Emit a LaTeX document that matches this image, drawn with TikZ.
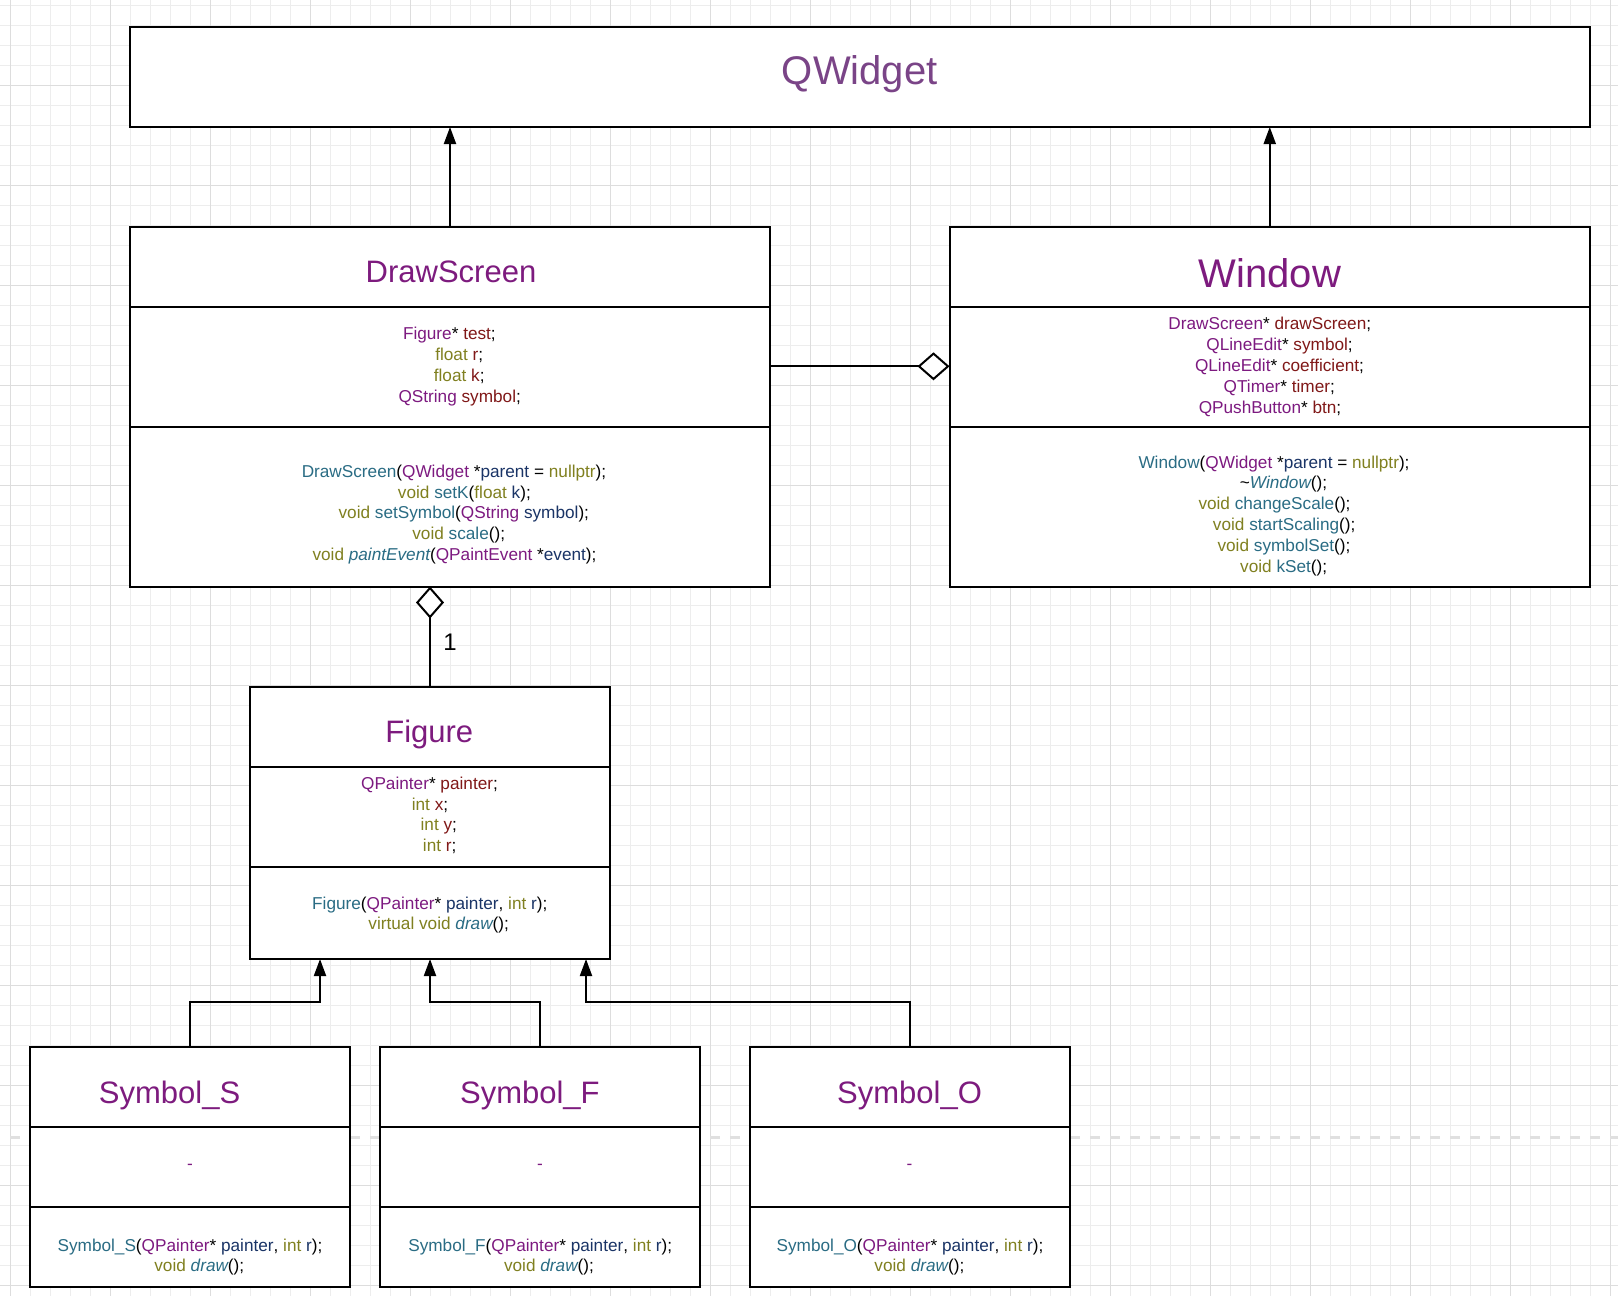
\documentclass[tikz,border=0pt]{standalone}
\usepackage{fontspec}
\setmainfont{Liberation Sans}
\usetikzlibrary{arrows.meta}
\definecolor{cty}{HTML}{7D1A80}
\definecolor{ckw}{HTML}{808020}
\definecolor{cfn}{HTML}{2A6C84}
\definecolor{cpa}{HTML}{1A3466}
\definecolor{cfd}{HTML}{801818}
\definecolor{ttlc}{HTML}{7D1B7E}
\definecolor{qwc}{HTML}{7A4487}
\definecolor{gminor}{HTML}{EDEDED}
\definecolor{gmajor}{HTML}{DDDDDD}
\definecolor{pbreak}{HTML}{E0E0E0}
\newcommand\cTy[1]{\textcolor{cty}{#1}}
\newcommand\cKw[1]{\textcolor{ckw}{#1}}
\newcommand\cFn[1]{\textcolor{cfn}{#1}}
\newcommand\cPa[1]{\textcolor{cpa}{#1}}
\newcommand\cFd[1]{\textcolor{cfd}{#1}}
\newcommand\umlline[4]{\node[txt] (#1) at (#2,#3) {#4};}
\tikzset{
  gridminor/.style={draw=gminor, line width=1pt},
  gridmajor/.style={draw=gmajor, line width=1pt},
  pagebreakline/.style={draw=pbreak, line width=3pt, dash pattern=on 10pt off 10pt, dash phase=10pt},
  box/.style={draw=black, line width=2pt, fill=white, rectangle, inner sep=0pt, outer sep=0pt, anchor=north west},
  div/.style={draw=black, line width=2pt},
  txt/.style={inner sep=0pt, anchor=base, font=\fontsize{17.2}{20}\selectfont},
  ttl/.style={inner sep=0pt, anchor=base, text=ttlc, font=\fontsize{31}{36}\selectfont},
  bigttl/.style={inner sep=0pt, anchor=base, text=ttlc, font=\fontsize{40}{46}\selectfont},
  lbl/.style={inner sep=0pt, anchor=base, font=\fontsize{24}{28}\selectfont},
  gen/.style={draw=black, line width=2pt, -{Triangle[length=17pt,width=12pt]}},
  agg/.style={draw=black, line width=2pt, -{Diamond[fill=white,length=32pt,width=28pt]}}
}
\begin{document}
\begin{tikzpicture}[x=1pt,y=-1pt]
\useasboundingbox (0,0) rectangle (1618,1296);
\fill[white] (0,0) rectangle (1618,1296);
% grid
\foreach \gx in {10,30,...,1610} \draw[gridminor] (\gx,0) -- (\gx,1296);
\foreach \gy in {5,25,...,1295} \draw[gridminor] (0,\gy) -- (1618,\gy);
\foreach \gx in {10,110,...,1610} \draw[gridmajor] (\gx,0) -- (\gx,1296);
\foreach \gy in {85,185,...,1285} \draw[gridmajor] (0,\gy) -- (1618,\gy);
% page break line
\draw[pagebreakline] (0,1137) -- (1618,1137);

% boxes
\node[box, minimum width=1460pt, minimum height=100pt] (qw) at (130,27) {};
\node[box, minimum width=640pt, minimum height=360pt] (ds) at (130,226.5) {};
\node[box, minimum width=640.5pt, minimum height=360pt] (win) at (949.5,226.5) {};
\node[box, minimum width=360pt, minimum height=272.5pt] (fig) at (250,686.5) {};
\node[box, minimum width=320pt, minimum height=240pt] (ss) at (30,1046.5) {};
\node[box, minimum width=320pt, minimum height=240pt] (sf) at (380,1046.5) {};
\node[box, minimum width=320pt, minimum height=240pt] (so) at (749.5,1046.5) {};

% dividers
\foreach \b/\da/\db in {ds/80/200, win/80/200, fig/80/180, ss/80/160, sf/80/160, so/80/160} {
  \draw[div] ([yshift=-\da pt]\b.north west) -- ([yshift=-\da pt]\b.north east);
  \draw[div] ([yshift=-\db pt]\b.north west) -- ([yshift=-\db pt]\b.north east);
}

% titles
\node[bigttl, text=qwc] (qwt) at (859.7,84.5) {QWidget};
\node[ttl] (dst) at (451,282.5) {DrawScreen};
\node[bigttl] (wint) at (1270,287.5) {Window};
\node[ttl] (figt) at (429.3,742.5) {Figure};
\node[ttl] (sst) at (169.6,1103.5) {Symbol\_S};
\node[ttl] (sft) at (529.9,1103.5) {Symbol\_F};
\node[ttl] (sot) at (909.6,1103.5) {Symbol\_O};

% DrawScreen attributes
\umlline{dsa1}{449.4}{339.8}{\cTy{Figure}* \cFd{test};}
\umlline{dsa2}{459.2}{360.6}{\cKw{float} \cFd{r};}
\umlline{dsa3}{459.2}{381.4}{\cKw{float} \cFd{k};}
\umlline{dsa4}{459.7}{402.2}{\cTy{QString} \cFd{symbol};}
% DrawScreen methods
\umlline{dsm1}{454}{477.3}{\cFn{DrawScreen}(\cTy{QWidget} *\cPa{parent} = \cKw{nullptr});}
\umlline{dsm2}{464.4}{498.1}{\cKw{void} \cFn{setK}(\cKw{float} \cPa{k});}
\umlline{dsm3}{463.8}{518.9}{\cKw{void} \cFn{setSymbol}(\cTy{QString} \cPa{symbol});}
\umlline{dsm4}{458.7}{539.7}{\cKw{void} \cFn{scale}();}
\umlline{dsm5}{454.5}{560.5}{\cKw{void} \cFn{\itshape paintEvent}(\cTy{QPaintEvent} *\cPa{event});}

% Window attributes
\umlline{wa1}{1269.8}{329.5}{\cTy{DrawScreen}* \cFd{drawScreen};}
\umlline{wa2}{1279.6}{350.5}{\cTy{QLineEdit}* \cFd{symbol};}
\umlline{wa3}{1279.5}{371.4}{\cTy{QLineEdit}* \cFd{coefficient};}
\umlline{wa4}{1279.3}{392.4}{\cTy{QTimer}* \cFd{timer};}
\umlline{wa5}{1270}{413.3}{\cTy{QPushButton}* \cFd{btn};}
% Window methods
\umlline{wm1}{1274}{468}{\cFn{Window}(\cTy{QWidget} *\cPa{parent} = \cKw{nullptr});}
\umlline{wm2}{1283.5}{488.8}{\textasciitilde\cFn{\itshape Window}();}
\umlline{wm3}{1274.5}{509.6}{\cKw{void} \cFn{changeScale}();}
\umlline{wm4}{1284.2}{530.4}{\cKw{void} \cFn{startScaling}();}
\umlline{wm5}{1284}{551.2}{\cKw{void} \cFn{symbolSet}();}
\umlline{wm6}{1283.7}{572}{\cKw{void} \cFn{kSet}();}

% Figure attributes
\umlline{fa1}{429.5}{789.5}{\cTy{QPainter}* \cFd{painter};}
\umlline{fa2}{430}{810.5}{\cKw{int} \cFd{x};}
\umlline{fa3}{438.8}{830.5}{\cKw{int} \cFd{y};}
\umlline{fa4}{439.7}{851.2}{\cKw{int} \cFd{r};}
% Figure methods
\umlline{fm1}{429.8}{909.5}{\cFn{Figure}(\cTy{QPainter}* \cPa{painter}, \cKw{int} \cPa{r});}
\umlline{fm2}{438.7}{929.5}{\cKw{virtual void} \cFn{\itshape draw}();}

% Symbol_S
\umlline{ssa}{190}{1169.5}{\cTy{-}}
\umlline{ssm1}{190}{1251.2}{\cFn{Symbol\_S}(\cTy{QPainter}* \cPa{painter}, \cKw{int} \cPa{r});}
\umlline{ssm2}{199.3}{1271.2}{\cKw{void} \cFn{\itshape draw}();}
% Symbol_F
\umlline{sfa}{540}{1169.5}{\cTy{-}}
\umlline{sfm1}{540.2}{1251.2}{\cFn{Symbol\_F}(\cTy{QPainter}* \cPa{painter}, \cKw{int} \cPa{r});}
\umlline{sfm2}{549}{1271.2}{\cKw{void} \cFn{\itshape draw}();}
% Symbol_O
\umlline{soa}{909.5}{1169.5}{\cTy{-}}
\umlline{som1}{910}{1251.2}{\cFn{Symbol\_O}(\cTy{QPainter}* \cPa{painter}, \cKw{int} \cPa{r});}
\umlline{som2}{919.4}{1271.2}{\cKw{void} \cFn{\itshape draw}();}

% connectors
\draw[gen] (ds.north) -- (ds.north |- qw.south);
\draw[gen] (win.north) -- (win.north |- qw.south);
\coordinate (aggy) at (0,366.3);
\draw[agg] (ds.east |- aggy) -- (win.west |- aggy);
\draw[agg] (fig.north) -- (fig.north |- ds.south);
\node[lbl] (one) at (450,650.3) {1};
\coordinate (hy) at (0,1002);
\coordinate (ax1) at (320,0);
\coordinate (ax3) at (586,0);
\draw[gen] (ss.north) |- (hy -| ax1) -- (fig.south -| ax1);
\draw[gen] (sf.north) |- (hy -| fig.south) -- (fig.south);
\draw[gen] (so.north) |- (hy -| ax3) -- (fig.south -| ax3);
\end{tikzpicture}
\end{document}
